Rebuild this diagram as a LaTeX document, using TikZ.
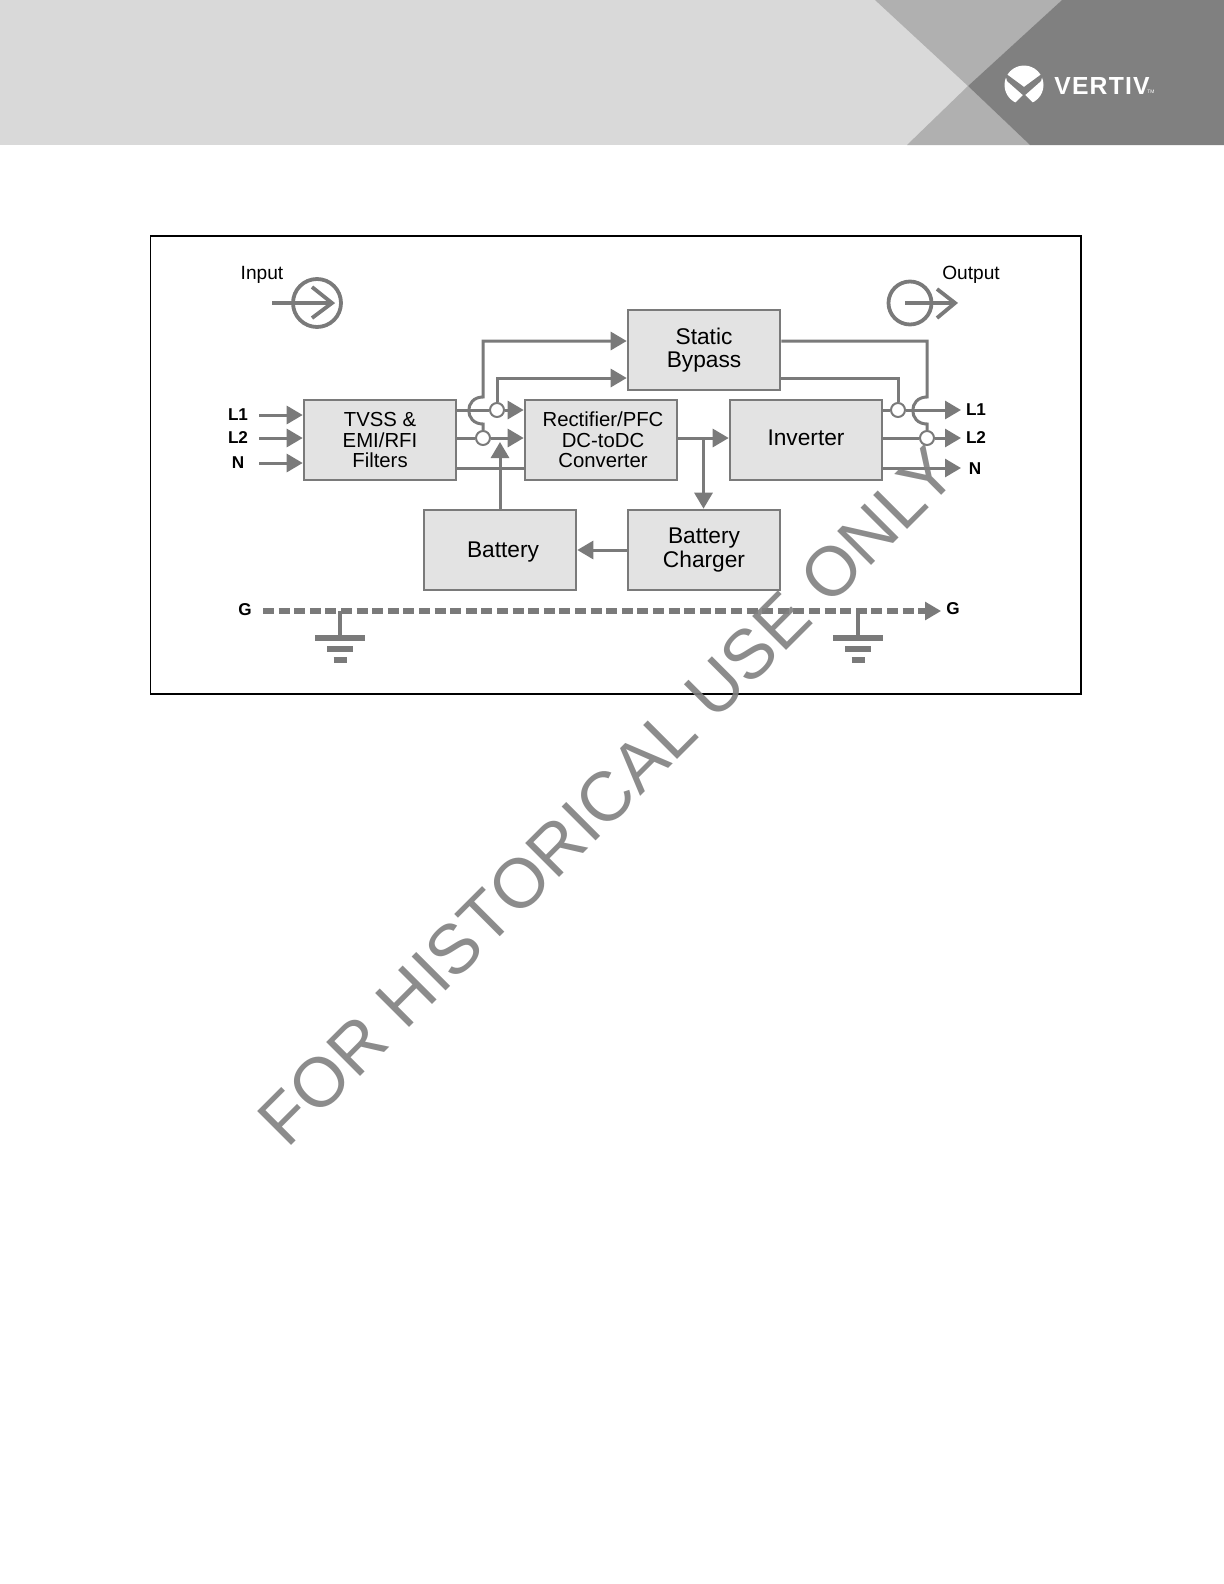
\documentclass[tikz,border=0pt]{standalone}
\usepackage{fontspec}
\usepackage{xcolor}
\usepackage{tikz}
\usetikzlibrary{arrows.meta}
\setmainfont{Liberation Sans}

\definecolor{wire}{HTML}{7A7A7A}
\definecolor{boxfill}{HTML}{E3E3E3}
\definecolor{headlight}{HTML}{D9D9D9}
\definecolor{headmid}{HTML}{B0B0B0}
\definecolor{headdark}{HTML}{808080}

\tikzset{
    block/.style={draw=wire, fill=boxfill, line width=1.3bp, inner sep=0pt,
        minimum width=76bp, minimum height=40bp, align=center, text=black},
    bigtext/.style={font=\fontsize{11.4}{11.7}\selectfont},
    smalltext/.style={font=\fontsize{10.2}{10.25}\selectfont},
    wirepath/.style={draw=wire, line width=1.5bp},
    flow/.style={wirepath, -{Triangle[length=8bp, width=9bp]}},
    dot/.style={circle, draw=wire, fill=white, line width=1bp, inner sep=0pt, minimum size=7bp},
    pinlabel/.style={font=\fontsize{8.6}{9}\bfseries\selectfont, inner sep=0pt},
    titlelabel/.style={font=\fontsize{9.6}{10}\selectfont, inner sep=0pt},
    symbolline/.style={draw=wire, line width=1.9bp},
    groundbar/.style={draw=wire, line width=2.8bp}
}

\begin{document}
\begin{tikzpicture}[x=0.5bp, y=-0.5bp]
    \useasboundingbox (0, 0) rectangle (1224, 1584);

    % header band
    \fill[headlight] (0, 0) rectangle (1224, 145);
    \fill[headmid] (875, 0) -- (1062, 0) -- (968, 86) -- cycle;
    \fill[headmid] (907, 145) -- (968, 86) -- (1030, 145) -- cycle;
    \fill[headdark] (1062, 0) -- (1224, 0) -- (1224, 145) -- (1030, 145) -- (968, 86) -- cycle;

    % logo
    \fill[white] (1024, 85) circle (19.5);
    \fill[headdark] (1005, 73) -- (1024, 87) -- (1043, 73) -- (1041, 81) -- (1024, 96) -- (1007, 81) -- cycle;
    \fill[headdark] (1024, 94) -- (1012, 106) -- (1036, 106) -- cycle;
    \node[white, inner sep=0pt, font=\fontsize{12.4}{12}\bfseries\selectfont] (brand) at (1102, 85.5) {V\kern0.6pt E\kern0.6pt R\kern0.6pt T\kern0.6pt I\kern0.6pt V};
    \node[white, inner sep=0pt, font=\fontsize{2.5}{3}\selectfont] (tm) at (1151, 92) {TM};

    % frame
    \draw[black, line width=0.8bp] (150.5, 236) rectangle (1081, 694);

    % boxes
    \node[block, smalltext] (tvss) at (380, 440) {TVSS \&\\EMI/RFI\\Filters};
    \node[block, smalltext] (rect) at (601, 440) {\hspace*{2bp}Rectifier/PFC\\\hspace*{2bp}DC-toDC\\\hspace*{2bp}Converter};
    \node[block, bigtext] (inv) at (806, 440) {\raisebox{1bp}[\height][\depth]{Inverter}};
    \node[block, bigtext] (bypass) at (704, 350) {Static\\Bypass};
    \node[block, bigtext] (batt) at (500, 550) {\hspace*{3bp}\raisebox{-1bp}[\height][\depth]{Battery}};
    \node[block, bigtext] (chg) at (704, 550) {Battery\\Charger};

    % junctions
    \node[dot] (indota) at (497, 410) {};
    \node[dot] (indotb) at (483, 438) {};
    \node[dot] (outdota) at (898, 410) {};
    \node[dot] (outdotb) at (927, 438) {};

    % input side pins
    \node[pinlabel] (ina) at (238, 415) {L1};
    \node[pinlabel] (inb) at (238, 438) {L2};
    \node[pinlabel] (inn) at (238, 463) {N};
    \coordinate (inawire) at (259, 415);
    \coordinate (inbwire) at (259, 438);
    \coordinate (innwire) at (259, 463);
    \draw[flow] (inawire) -- (inawire -| tvss.west);
    \draw[flow] (inbwire) -- (inbwire -| tvss.west);
    \draw[flow] (innwire) -- (innwire -| tvss.west);

    % filter to rectifier
    \draw[wirepath] (indota -| tvss.east) -- (indota);
    \draw[flow] (indota) -- (indota -| rect.west);
    \draw[wirepath] (indotb -| tvss.east) -- (indotb);
    \draw[flow] (indotb) -- (indotb -| rect.west);
    \coordinate (innertap) at (456, 468);
    \draw[wirepath] (innertap) -- (innertap -| rect.west);

    % bypass feeds
    \coordinate (hopatop) at (483, 397);
    \coordinate (hopabot) at (483, 424);
    \coordinate (feeda) at (483, 341);
    \coordinate (feedb) at (497, 378);
    \draw[flow] (indotb) -- (hopabot) .. controls (464, 424) and (464, 397) .. (hopatop)
        -- (feeda) -- (feeda -| bypass.west);
    \draw[flow] (indota) -- (feedb) -- (feedb -| bypass.west);

    % bypass returns
    \coordinate (hopbtop) at (927, 397);
    \coordinate (hopbbot) at (927, 424);
    \coordinate (backa) at (927, 341);
    \coordinate (backb) at (898, 378);
    \draw[wirepath] (backa -| bypass.east) -- (backa) -- (hopbtop)
        .. controls (908, 397) and (908, 424) .. (hopbbot) -- (outdotb);
    \draw[wirepath] (backb -| bypass.east) -- (backb) -- (outdota);

    % output side pins
    \node[pinlabel] (outa) at (976, 410) {L1};
    \node[pinlabel] (outb) at (976, 438) {L2};
    \node[pinlabel] (outn) at (975, 469) {N};
    \coordinate (outatip) at (961, 410);
    \coordinate (outbtip) at (961, 438);
    \coordinate (outntip) at (961, 468);
    \draw[wirepath] (outdota -| inv.east) -- (outdota);
    \draw[flow] (outdota) -- (outatip);
    \draw[wirepath] (outdotb -| inv.east) -- (outdotb);
    \draw[flow] (outdotb) -- (outbtip);
    \draw[flow] (outntip -| inv.east) -- (outntip);

    % dc side
    \coordinate (dcbus) at (703.5, 438);
    \draw[flow] (dcbus -| rect.east) -- (dcbus -| inv.west);
    \draw[flow] (dcbus) -- (dcbus |- chg.north);
    \draw[flow] (chg) -- (batt);
    \coordinate (battup) at (500, 510);
    \coordinate (batttip) at (500, 442);
    \draw[flow] (battup) -- (batttip);

    % input / output symbols
    \node[titlelabel] (inlabel) at (262, 275) {Input};
    \node[titlelabel] (outlabel) at (971, 275) {Output};
    \draw[symbolline] (317, 303) circle (24);
    \draw[symbolline] (272, 303) -- (332, 303);
    \draw[symbolline] (312, 287) -- (332, 303) -- (312, 318);
    \draw[symbolline] (910, 303) circle (21.5);
    \draw[symbolline] (905, 303) -- (955, 303);
    \draw[symbolline] (937, 289) -- (955, 303) -- (937, 318);

    % ground
    \node[pinlabel] (gleft) at (245, 610) {G};
    \node[pinlabel] (gright) at (953, 609) {G};
    \coordinate (gstart) at (263, 611);
    \coordinate (gend) at (941, 611);
    \draw[wirepath, line width=2.6bp, dash pattern=on 5.5bp off 2.3bp] (gstart) -- (926, 611);
    \draw[flow] (926, 611) -- (gend);
    \foreach \gx/\gname in {340/glefta, 858/grighta} {
        \coordinate (\gname) at (\gx, 611);
        \draw[wire, line width=2bp] (\gname) -- ++(0, 27);
        \draw[groundbar] (\gx-25, 638) -- (\gx+25, 638);
        \draw[groundbar] (\gx-13, 649) -- (\gx+13, 649);
        \draw[groundbar] (\gx-6.5, 660) -- (\gx+6.5, 660);
    }

    % watermark
    \node[rotate=45, text=headdark, text opacity=0.9, inner sep=0pt, font=\fontsize{35}{35}\selectfont] (stamp) at (607, 796) {FOR HISTORICAL USE ONLY};
\end{tikzpicture}
\end{document}
